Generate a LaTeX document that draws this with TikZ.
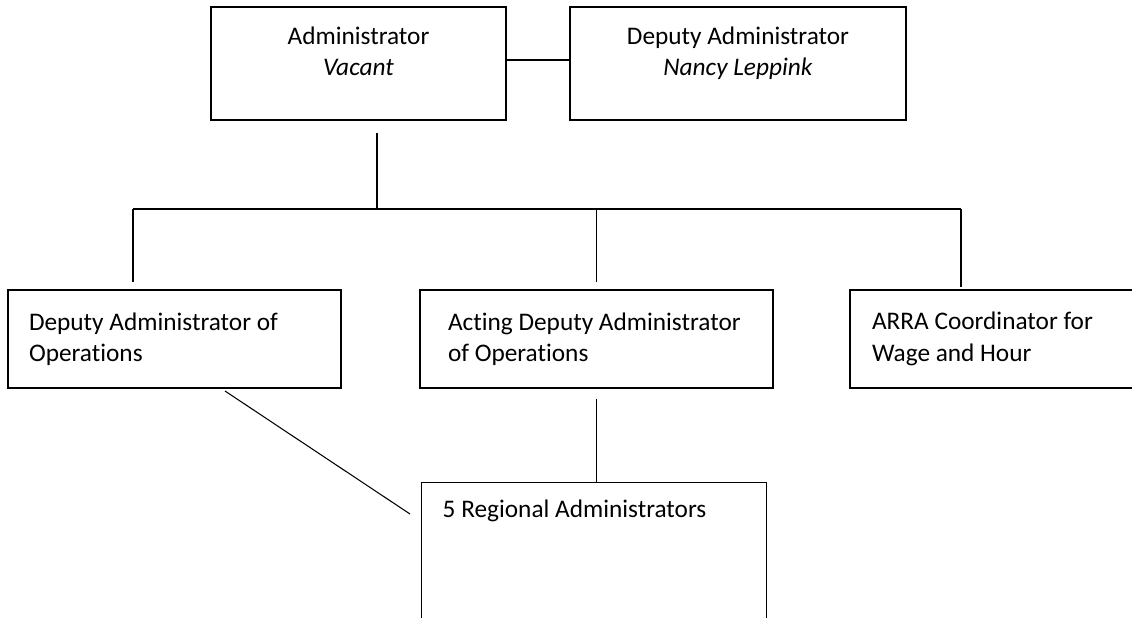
\documentclass[tikz,border=0pt]{standalone}
\usepackage{fontspec}
\setmainfont{Carlito}[Ligatures=NoCommon]
\hyphenpenalty=10000

\begin{document}
\begin{tikzpicture}[line width=0.6pt]
      \useasboundingbox (0, 0) rectangle (22.64, -12.36);
      \clip (0, 0) rectangle (22.64, -12.36);
      \begin{scope}[
        every node/.style={
        draw,
        line width=0.8pt,
        inner ysep=0pt,
        font=\fontsize{14.4}{17.8}\selectfont,
        shape=rectangle,
        }
      ]
        \node[minimum width=5.9cm, minimum height=2.26cm, text depth=0.5cm, align=center] (a) at (7.17, -1.27) {Administrator\\\textit{Vacant}};
        \node[minimum width=6.72cm, minimum height=2.26cm, text depth=0.5cm, align=center] (b) at (14.76, -1.27) {Deputy Administrator\\\textit{Nancy Leppink}};
        \node[minimum height=1.96cm, inner xsep=0.42cm, text width=5.82cm, align=flush left] (c) at (3.49, -6.78) {Deputy Administrator of\\Operations};
        \node[minimum height=1.96cm, inner xsep=0.56cm, text width=5.94cm, align=flush left] (d) at (11.93, -6.78) {Acting Deputy Administrator\\of Operations};
        \node[minimum height=1.96cm, inner xsep=0.44cm, text width=4.92cm, align=flush left] (e) at (19.9, -6.78) {ARRA Coordinator for\\Wage and Hour};
        \node[anchor=north west, inner xsep=0.42cm, text width=6.06cm, align=flush left, text height=0.7cm, text depth=4cm] (f) at (8.42, -9.64) {5 Regional Administrators};
      \end{scope}

      % bus below the administrator
      \coordinate (top) at (7.54, -2.66);
      \coordinate (mid) at (7.54, -4.18);
      \coordinate (l) at (2.66, -4.18);
      \coordinate (r) at (19.22, -4.18);
      \coordinate (s) at (4.5, -7.82);
      \coordinate (t) at (8.2, -10.28);

      \draw ([yshift=0.07cm]a.east) -- ([yshift=0.07cm]b.west);
      \draw (top) -- (mid);
      \draw (l) -- (r);
      \draw (l) -- ([yshift=0.14cm]c.north -| l);
      \draw (d.north |- mid) -- ([yshift=0.14cm]d.north);
      \draw (r) -- ([yshift=0.04cm]e.north -| r);

      \draw ([yshift=-0.2cm]d.south) -- (d.south |- f.north);
      \draw (s) -- (t);
    \end{tikzpicture}
\end{document}
